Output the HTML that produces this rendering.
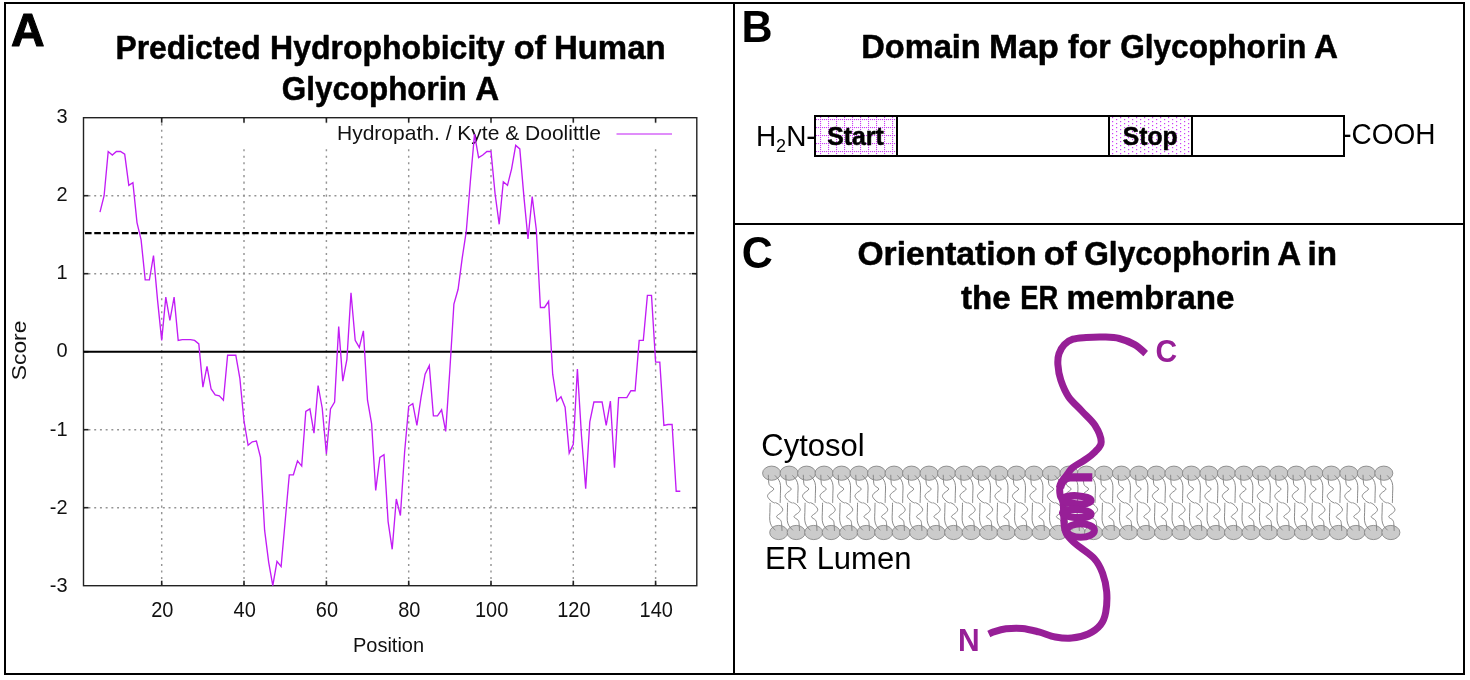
<!DOCTYPE html>
<html><head><meta charset="utf-8"><title>Glycophorin A</title>
<style>html,body{margin:0;padding:0;background:#fff;}svg{display:block;will-change:transform;font-family:"Liberation Sans",sans-serif;}</style>
</head><body>
<svg width="1470" height="680" viewBox="0 0 1470 680">
<defs>
<pattern id="pstart" x="820" y="119" width="8" height="8" patternUnits="userSpaceOnUse">
<rect x="0" y="0" width="1.1" height="1.1" fill="#cb3df5"/>
<rect x="2" y="0" width="1.1" height="1.1" fill="#cb3df5"/>
<rect x="4" y="0" width="1.1" height="1.1" fill="#cb3df5"/>
<rect x="6" y="0" width="1.1" height="1.1" fill="#cb3df5"/>
<rect x="0" y="2" width="1.1" height="1.1" fill="#cb3df5"/>
<rect x="0" y="4" width="1.1" height="1.1" fill="#cb3df5"/>
<rect x="0" y="6" width="1.1" height="1.1" fill="#cb3df5"/>
</pattern>
<pattern id="pstop" x="1112" y="117" width="8" height="4" patternUnits="userSpaceOnUse">
<rect x="0" y="0" width="1.2" height="1.2" fill="#cb3df5"/><rect x="4" y="2" width="1.2" height="1.2" fill="#cb3df5"/>
</pattern>
<g id="lip">
<ellipse cx="0" cy="0" rx="9" ry="7.1" fill="#cbcbcb" stroke="#888" stroke-width="0.9"/>
<path d="M-3.3,1.6C-3.2,2.6 -3.2,5.7 -3.0,7.5C-2.8,9.3 -2.9,10.8 -2.0,12.2C-1.1,13.6 2.4,14.6 2.2,15.9C2.1,17.2 -1.6,18.9 -2.6,20.1C-3.6,21.4 -4.3,22.1 -4.0,23.4C-3.6,24.7 -1.7,26.7 -0.5,27.8C0.7,28.9 2.8,29.6 3.4,30.0" fill="none" stroke="#7d7d7d" stroke-width="0.9"/>
<path d="M3.3,2.2C4.0,3.0 6.4,5.2 7.3,6.9C8.2,8.6 8.7,10.0 8.9,12.2C9.2,14.4 8.9,17.1 8.8,20.0C8.8,22.9 8.6,28.1 8.6,29.7" fill="none" stroke="#7d7d7d" stroke-width="0.9"/>
</g>
</defs>
<rect x="5" y="3" width="1459" height="671" fill="none" stroke="#000" stroke-width="2"/>
<line x1="734" y1="3" x2="734" y2="674" stroke="#000" stroke-width="2"/>
<line x1="734" y1="224" x2="1464" y2="224" stroke="#000" stroke-width="2"/>
<text transform="translate(11.00,46.20)" font-size="45.5" font-weight="bold" textLength="33.6" lengthAdjust="spacingAndGlyphs" fill="#000" stroke="#000" stroke-width="1.0" stroke-linejoin="round">A</text>
<text transform="translate(115.39,59.40) scale(0.9844,1.030)" font-size="32.4" font-weight="bold" stroke="#000" stroke-width="0.5" stroke-linejoin="round">Predicted</text>
<text transform="translate(270.08,59.40) scale(0.9878,1.030)" font-size="32.4" font-weight="bold" stroke="#000" stroke-width="0.5" stroke-linejoin="round">Hydrophobicity</text>
<text transform="translate(513.67,59.40) scale(1.0592,1.030)" font-size="32.4" font-weight="bold" stroke="#000" stroke-width="0.5" stroke-linejoin="round">of</text>
<text transform="translate(553.92,59.40) scale(1.0180,1.030)" font-size="32.4" font-weight="bold" stroke="#000" stroke-width="0.5" stroke-linejoin="round">Human</text>
<text transform="translate(281.85,99.60) scale(0.9683,1.030)" font-size="32.4" font-weight="bold" stroke="#000" stroke-width="0.5" stroke-linejoin="round">Glycophorin</text>
<text transform="translate(475.24,99.60) scale(1.0212,1.030)" font-size="32.4" font-weight="bold" stroke="#000" stroke-width="0.5" stroke-linejoin="round">A</text>
<line x1="161.7" y1="117.7" x2="161.7" y2="585.7" stroke="#949494" stroke-width="1.45" stroke-dasharray="2.1 4.38" stroke-dashoffset="0.9"/>
<line x1="244.0" y1="117.7" x2="244.0" y2="585.7" stroke="#949494" stroke-width="1.45" stroke-dasharray="2.1 4.38" stroke-dashoffset="0.9"/>
<line x1="326.4" y1="117.7" x2="326.4" y2="585.7" stroke="#949494" stroke-width="1.45" stroke-dasharray="2.1 4.38" stroke-dashoffset="0.9"/>
<line x1="408.7" y1="117.7" x2="408.7" y2="585.7" stroke="#949494" stroke-width="1.45" stroke-dasharray="2.1 4.38" stroke-dashoffset="0.9"/>
<line x1="491.0" y1="117.7" x2="491.0" y2="585.7" stroke="#949494" stroke-width="1.45" stroke-dasharray="2.1 4.38" stroke-dashoffset="0.9"/>
<line x1="573.3" y1="117.7" x2="573.3" y2="585.7" stroke="#949494" stroke-width="1.45" stroke-dasharray="2.1 4.38" stroke-dashoffset="0.9"/>
<line x1="655.6" y1="117.7" x2="655.6" y2="585.7" stroke="#949494" stroke-width="1.45" stroke-dasharray="2.1 4.38" stroke-dashoffset="0.9"/>
<line x1="83.5" y1="507.7" x2="696.8" y2="507.7" stroke="#949494" stroke-width="1.45" stroke-dasharray="1.95 3.77" stroke-dashoffset="0.72"/>
<line x1="83.5" y1="429.7" x2="696.8" y2="429.7" stroke="#949494" stroke-width="1.45" stroke-dasharray="1.95 3.77" stroke-dashoffset="0.72"/>
<line x1="83.5" y1="273.7" x2="696.8" y2="273.7" stroke="#949494" stroke-width="1.45" stroke-dasharray="1.95 3.77" stroke-dashoffset="0.72"/>
<line x1="83.5" y1="195.7" x2="696.8" y2="195.7" stroke="#949494" stroke-width="1.45" stroke-dasharray="1.95 3.77" stroke-dashoffset="0.72"/>
<line x1="161.7" y1="117.7" x2="161.7" y2="122.7" stroke="#222" stroke-width="1.6"/>
<line x1="161.7" y1="585.7" x2="161.7" y2="580.7" stroke="#222" stroke-width="1.6"/>
<line x1="244.0" y1="117.7" x2="244.0" y2="122.7" stroke="#222" stroke-width="1.6"/>
<line x1="244.0" y1="585.7" x2="244.0" y2="580.7" stroke="#222" stroke-width="1.6"/>
<line x1="326.4" y1="117.7" x2="326.4" y2="122.7" stroke="#222" stroke-width="1.6"/>
<line x1="326.4" y1="585.7" x2="326.4" y2="580.7" stroke="#222" stroke-width="1.6"/>
<line x1="408.7" y1="117.7" x2="408.7" y2="122.7" stroke="#222" stroke-width="1.6"/>
<line x1="408.7" y1="585.7" x2="408.7" y2="580.7" stroke="#222" stroke-width="1.6"/>
<line x1="491.0" y1="117.7" x2="491.0" y2="122.7" stroke="#222" stroke-width="1.6"/>
<line x1="491.0" y1="585.7" x2="491.0" y2="580.7" stroke="#222" stroke-width="1.6"/>
<line x1="573.3" y1="117.7" x2="573.3" y2="122.7" stroke="#222" stroke-width="1.6"/>
<line x1="573.3" y1="585.7" x2="573.3" y2="580.7" stroke="#222" stroke-width="1.6"/>
<line x1="655.6" y1="117.7" x2="655.6" y2="122.7" stroke="#222" stroke-width="1.6"/>
<line x1="655.6" y1="585.7" x2="655.6" y2="580.7" stroke="#222" stroke-width="1.6"/>
<line x1="83.5" y1="507.7" x2="88.5" y2="507.7" stroke="#222" stroke-width="1.6"/>
<line x1="696.8" y1="507.7" x2="691.8" y2="507.7" stroke="#222" stroke-width="1.6"/>
<line x1="83.5" y1="429.7" x2="88.5" y2="429.7" stroke="#222" stroke-width="1.6"/>
<line x1="696.8" y1="429.7" x2="691.8" y2="429.7" stroke="#222" stroke-width="1.6"/>
<line x1="83.5" y1="351.7" x2="88.5" y2="351.7" stroke="#222" stroke-width="1.6"/>
<line x1="696.8" y1="351.7" x2="691.8" y2="351.7" stroke="#222" stroke-width="1.6"/>
<line x1="83.5" y1="273.7" x2="88.5" y2="273.7" stroke="#222" stroke-width="1.6"/>
<line x1="696.8" y1="273.7" x2="691.8" y2="273.7" stroke="#222" stroke-width="1.6"/>
<line x1="83.5" y1="195.7" x2="88.5" y2="195.7" stroke="#222" stroke-width="1.6"/>
<line x1="696.8" y1="195.7" x2="691.8" y2="195.7" stroke="#222" stroke-width="1.6"/>
<rect x="83.5" y="117.7" width="613.3" height="468.0" fill="none" stroke="#222" stroke-width="1.4"/>
<rect x="200" y="123.2" width="495.8" height="22.8" fill="#fff"/>
<text transform="translate(337.00,139.90) scale(1,1.0500)" font-size="20" textLength="264.0" lengthAdjust="spacingAndGlyphs" fill="#111">Hydropath. / Kyte &amp; Doolittle</text>
<line x1="616.5" y1="134" x2="672" y2="134" stroke="#c21cf5" stroke-width="1.2"/>
<line x1="83.5" y1="351.8" x2="696.8" y2="351.8" stroke="#000" stroke-width="1.9"/>
<line x1="85" y1="233.1" x2="696.8" y2="233.1" stroke="#000" stroke-width="2.2" stroke-dasharray="6.6 2.67"/>
<path d="M100.0,212.2 L104.1,195.7 L108.2,151.5 L112.3,155.0 L116.4,151.5 L120.5,151.5 L124.7,154.1 L128.8,185.3 L132.9,182.7 L137.0,222.6 L141.1,239.9 L145.2,279.8 L149.4,279.8 L153.5,255.5 L157.6,300.6 L161.7,340.4 L165.8,297.1 L169.9,320.5 L174.1,297.1 L178.2,340.4 L182.3,339.6 L186.4,339.6 L190.5,339.6 L194.6,340.4 L198.8,343.9 L202.9,387.2 L207.0,366.4 L211.1,389.0 L215.2,395.0 L219.3,395.9 L223.4,400.2 L227.6,355.2 L231.7,355.2 L235.8,355.2 L239.9,378.6 L244.0,421.0 L248.1,445.3 L252.3,441.8 L256.4,441.0 L260.5,457.4 L264.6,530.2 L268.7,562.3 L272.8,585.7 L277.0,561.4 L281.1,566.6 L285.2,520.7 L289.3,474.8 L293.4,474.8 L297.5,460.9 L301.7,466.1 L305.8,411.5 L309.9,408.9 L314.0,433.2 L318.1,385.5 L322.2,408.0 L326.4,454.0 L330.5,408.9 L334.6,402.0 L338.7,326.6 L342.8,381.2 L346.9,359.5 L351.0,292.8 L355.2,340.4 L359.3,347.4 L363.4,330.9 L367.5,400.2 L371.6,423.6 L375.7,490.4 L379.9,457.4 L384.0,454.8 L388.1,521.6 L392.2,549.3 L396.3,499.0 L400.4,515.5 L404.6,452.2 L408.7,406.3 L412.8,403.7 L416.9,425.4 L421.0,397.6 L425.1,374.2 L429.3,365.6 L433.4,415.8 L437.5,415.8 L441.6,409.8 L445.7,431.4 L449.8,370.8 L453.9,304.0 L458.1,289.3 L462.2,258.1 L466.3,231.2 L470.4,181.0 L474.5,134.2 L478.6,157.6 L482.8,155.0 L486.9,151.5 L491.0,151.5 L495.1,194.0 L499.2,224.3 L503.3,181.8 L507.5,185.3 L511.6,168.8 L515.7,145.4 L519.8,148.9 L523.9,196.6 L528.0,239.0 L532.2,196.6 L536.3,229.5 L540.4,307.5 L544.5,307.5 L548.6,301.4 L552.7,374.2 L556.9,401.1 L561.0,396.8 L565.1,407.2 L569.2,453.1 L573.3,444.4 L577.4,369.0 L581.5,435.8 L585.7,488.6 L589.8,421.9 L593.9,402.0 L598.0,402.0 L602.1,402.0 L606.2,425.4 L610.4,401.1 L614.5,467.8 L618.6,397.6 L622.7,397.6 L626.8,397.6 L630.9,390.7 L635.1,390.7 L639.2,340.4 L643.3,340.4 L647.4,295.4 L651.5,295.4 L655.6,362.1 L659.8,362.1 L663.9,425.4 L668.0,424.5 L672.1,424.5 L676.2,491.2 L680.3,491.2" fill="none" stroke="#c21cf5" stroke-width="1.35" stroke-linejoin="miter"/>
<text transform="translate(67.60,123.10) scale(1,1.0500)" font-size="20" text-anchor="end" fill="#111">3</text>
<text transform="translate(67.60,201.10) scale(1,1.0500)" font-size="20" text-anchor="end" fill="#111">2</text>
<text transform="translate(67.60,279.10) scale(1,1.0500)" font-size="20" text-anchor="end" fill="#111">1</text>
<text transform="translate(67.60,357.10) scale(1,1.0500)" font-size="20" text-anchor="end" fill="#111">0</text>
<text transform="translate(67.60,436.00) scale(1,1.0500)" font-size="20" text-anchor="end" fill="#111">-1</text>
<text transform="translate(67.60,514.00) scale(1,1.0500)" font-size="20" text-anchor="end" fill="#111">-2</text>
<text transform="translate(67.60,592.00) scale(1,1.0500)" font-size="20" text-anchor="end" fill="#111">-3</text>
<text transform="translate(162.31,616.50) scale(1,1.1000)" font-size="20" text-anchor="middle" fill="#111">20</text>
<text transform="translate(244.63,616.50) scale(1,1.1000)" font-size="20" text-anchor="middle" fill="#111">40</text>
<text transform="translate(326.95,616.50) scale(1,1.1000)" font-size="20" text-anchor="middle" fill="#111">60</text>
<text transform="translate(409.27,616.50) scale(1,1.1000)" font-size="20" text-anchor="middle" fill="#111">80</text>
<text transform="translate(491.59,616.50) scale(1,1.1000)" font-size="20" text-anchor="middle" fill="#111">100</text>
<text transform="translate(573.92,616.50) scale(1,1.1000)" font-size="20" text-anchor="middle" fill="#111">120</text>
<text transform="translate(656.24,616.50) scale(1,1.1000)" font-size="20" text-anchor="middle" fill="#111">140</text>
<text transform="translate(388.50,652.30) scale(1,1.0400)" font-size="20" text-anchor="middle" fill="#111">Position</text>
<text transform="translate(26.2,380.2) rotate(-90)" font-size="20" textLength="59.5" lengthAdjust="spacingAndGlyphs" fill="#111">Score</text>
<text transform="translate(741.60,42.30) scale(1,1.0412)" font-size="43" font-weight="bold" fill="#000">B</text>
<text transform="translate(861.24,57.90) scale(1.0061,1.030)" font-size="32.4" font-weight="bold" stroke="#000" stroke-width="0.5" stroke-linejoin="round">Domain</text>
<text transform="translate(989.01,57.90) scale(1.0775,1.030)" font-size="32.4" font-weight="bold" stroke="#000" stroke-width="0.5" stroke-linejoin="round">Map</text>
<text transform="translate(1068.08,57.90) scale(0.9843,1.030)" font-size="32.4" font-weight="bold" stroke="#000" stroke-width="0.5" stroke-linejoin="round">for</text>
<text transform="translate(1120.13,57.90) scale(0.9763,1.030)" font-size="32.4" font-weight="bold" stroke="#000" stroke-width="0.5" stroke-linejoin="round">Glycophorin</text>
<text transform="translate(1314.04,57.90) scale(1.0258,1.030)" font-size="32.4" font-weight="bold" stroke="#000" stroke-width="0.5" stroke-linejoin="round">A</text>
<rect x="815" y="116" width="82" height="40" fill="url(#pstart)"/>
<rect x="1109" y="116" width="83" height="40" fill="url(#pstop)"/>
<rect x="815" y="116" width="529" height="40" fill="none" stroke="#000" stroke-width="2"/>
<line x1="897" y1="116" x2="897" y2="156" stroke="#000" stroke-width="2"/>
<line x1="1109" y1="116" x2="1109" y2="156" stroke="#000" stroke-width="2"/>
<line x1="1192" y1="116" x2="1192" y2="156" stroke="#000" stroke-width="2"/>
<text transform="translate(827.20,144.70) scale(1,1.0412)" font-size="24" font-weight="bold" textLength="56.6" lengthAdjust="spacingAndGlyphs" fill="#000" stroke="#000" stroke-width="0.5" stroke-linejoin="round">Start</text>
<text transform="translate(1122.80,144.70) scale(1,1.0412)" font-size="24" font-weight="bold" textLength="54.8" lengthAdjust="spacingAndGlyphs" fill="#000" stroke="#000" stroke-width="0.5" stroke-linejoin="round">Stop</text>
<text transform="translate(755.90,146.00) scale(1,1.0412)" font-size="28" fill="#000">H<tspan font-size="18" dy="5.4">2</tspan><tspan dy="-5.4">N-</tspan></text>
<text transform="translate(1342.20,143.80) scale(1,1.0412)" font-size="28" fill="#000">-COOH</text>
<text transform="translate(741.70,268.30) scale(1,1.0412)" font-size="43" font-weight="bold" fill="#000">C</text>
<text transform="translate(857.46,265.20) scale(1.0363,1.030)" font-size="32.4" font-weight="bold" stroke="#000" stroke-width="0.5" stroke-linejoin="round">Orientation</text>
<text transform="translate(1043.65,265.20) scale(1.0826,1.030)" font-size="32.4" font-weight="bold" stroke="#000" stroke-width="0.5" stroke-linejoin="round">of</text>
<text transform="translate(1084.23,265.20) scale(0.9774,1.030)" font-size="32.4" font-weight="bold" stroke="#000" stroke-width="0.5" stroke-linejoin="round">Glycophorin</text>
<text transform="translate(1277.14,265.20) scale(1.0212,1.030)" font-size="32.4" font-weight="bold" stroke="#000" stroke-width="0.5" stroke-linejoin="round">A</text>
<text transform="translate(1307.61,265.20) scale(1.0250,1.030)" font-size="32.4" font-weight="bold" stroke="#000" stroke-width="0.5" stroke-linejoin="round">in</text>
<text transform="translate(961.07,308.80) scale(1.0226,1.030)" font-size="32.4" font-weight="bold" stroke="#000" stroke-width="0.5" stroke-linejoin="round">the</text>
<text transform="translate(1020.16,308.80) scale(0.8437,1.030)" font-size="32.4" font-weight="bold" stroke="#000" stroke-width="0.5" stroke-linejoin="round">ER</text>
<text transform="translate(1066.51,308.80) scale(1.0250,1.030)" font-size="32.4" font-weight="bold" stroke="#000" stroke-width="0.5" stroke-linejoin="round">membrane</text>
<text transform="translate(761.30,456.00) scale(1,1.0412)" font-size="31" fill="#000">Cytosol</text>
<text transform="translate(765.00,568.70) scale(1,1.0412)" font-size="31" fill="#000">ER Lumen</text>
<use href="#lip" x="771.60" y="473.2"/>
<use href="#lip" x="789.09" y="473.2"/>
<use href="#lip" x="806.58" y="473.2"/>
<use href="#lip" x="824.07" y="473.2"/>
<use href="#lip" x="841.57" y="473.2"/>
<use href="#lip" x="859.06" y="473.2"/>
<use href="#lip" x="876.55" y="473.2"/>
<use href="#lip" x="894.04" y="473.2"/>
<use href="#lip" x="911.53" y="473.2"/>
<use href="#lip" x="929.02" y="473.2"/>
<use href="#lip" x="946.51" y="473.2"/>
<use href="#lip" x="964.01" y="473.2"/>
<use href="#lip" x="981.50" y="473.2"/>
<use href="#lip" x="998.99" y="473.2"/>
<use href="#lip" x="1016.48" y="473.2"/>
<use href="#lip" x="1033.97" y="473.2"/>
<use href="#lip" x="1051.46" y="473.2"/>
<use href="#lip" x="1068.95" y="473.2"/>
<use href="#lip" x="1086.45" y="473.2"/>
<use href="#lip" x="1103.94" y="473.2"/>
<use href="#lip" x="1121.43" y="473.2"/>
<use href="#lip" x="1138.92" y="473.2"/>
<use href="#lip" x="1156.41" y="473.2"/>
<use href="#lip" x="1173.90" y="473.2"/>
<use href="#lip" x="1191.39" y="473.2"/>
<use href="#lip" x="1208.89" y="473.2"/>
<use href="#lip" x="1226.38" y="473.2"/>
<use href="#lip" x="1243.87" y="473.2"/>
<use href="#lip" x="1261.36" y="473.2"/>
<use href="#lip" x="1278.85" y="473.2"/>
<use href="#lip" x="1296.34" y="473.2"/>
<use href="#lip" x="1313.83" y="473.2"/>
<use href="#lip" x="1331.33" y="473.2"/>
<use href="#lip" x="1348.82" y="473.2"/>
<use href="#lip" x="1366.31" y="473.2"/>
<use href="#lip" x="1383.80" y="473.2"/>
<use href="#lip" transform="translate(778.70,532.5) rotate(180)"/>
<use href="#lip" transform="translate(796.19,532.5) rotate(180)"/>
<use href="#lip" transform="translate(813.68,532.5) rotate(180)"/>
<use href="#lip" transform="translate(831.17,532.5) rotate(180)"/>
<use href="#lip" transform="translate(848.67,532.5) rotate(180)"/>
<use href="#lip" transform="translate(866.16,532.5) rotate(180)"/>
<use href="#lip" transform="translate(883.65,532.5) rotate(180)"/>
<use href="#lip" transform="translate(901.14,532.5) rotate(180)"/>
<use href="#lip" transform="translate(918.63,532.5) rotate(180)"/>
<use href="#lip" transform="translate(936.12,532.5) rotate(180)"/>
<use href="#lip" transform="translate(953.61,532.5) rotate(180)"/>
<use href="#lip" transform="translate(971.11,532.5) rotate(180)"/>
<use href="#lip" transform="translate(988.60,532.5) rotate(180)"/>
<use href="#lip" transform="translate(1006.09,532.5) rotate(180)"/>
<use href="#lip" transform="translate(1023.58,532.5) rotate(180)"/>
<use href="#lip" transform="translate(1041.07,532.5) rotate(180)"/>
<use href="#lip" transform="translate(1058.56,532.5) rotate(180)"/>
<use href="#lip" transform="translate(1076.05,532.5) rotate(180)"/>
<use href="#lip" transform="translate(1093.55,532.5) rotate(180)"/>
<use href="#lip" transform="translate(1111.04,532.5) rotate(180)"/>
<use href="#lip" transform="translate(1128.53,532.5) rotate(180)"/>
<use href="#lip" transform="translate(1146.02,532.5) rotate(180)"/>
<use href="#lip" transform="translate(1163.51,532.5) rotate(180)"/>
<use href="#lip" transform="translate(1181.00,532.5) rotate(180)"/>
<use href="#lip" transform="translate(1198.49,532.5) rotate(180)"/>
<use href="#lip" transform="translate(1215.99,532.5) rotate(180)"/>
<use href="#lip" transform="translate(1233.48,532.5) rotate(180)"/>
<use href="#lip" transform="translate(1250.97,532.5) rotate(180)"/>
<use href="#lip" transform="translate(1268.46,532.5) rotate(180)"/>
<use href="#lip" transform="translate(1285.95,532.5) rotate(180)"/>
<use href="#lip" transform="translate(1303.44,532.5) rotate(180)"/>
<use href="#lip" transform="translate(1320.93,532.5) rotate(180)"/>
<use href="#lip" transform="translate(1338.43,532.5) rotate(180)"/>
<use href="#lip" transform="translate(1355.92,532.5) rotate(180)"/>
<use href="#lip" transform="translate(1373.41,532.5) rotate(180)"/>
<use href="#lip" transform="translate(1390.90,532.5) rotate(180)"/>
<path d="M1145.7,353.6C1143.9,352.1 1139.1,347.1 1134.7,344.6C1130.3,342.1 1124.5,339.8 1119.3,338.5C1114.1,337.2 1109.3,337.2 1103.8,337.0C1098.3,336.8 1091.3,337.1 1086.2,337.5C1081.1,337.9 1076.6,338.0 1072.9,339.2C1069.2,340.4 1066.6,342.2 1064.3,344.6C1062.0,347.0 1060.1,350.4 1059.0,353.7C1057.9,357.0 1057.6,360.3 1057.9,364.7C1058.2,369.1 1059.0,374.9 1060.8,380.2C1062.6,385.5 1065.0,391.6 1068.5,396.7C1072.0,401.8 1077.4,406.2 1081.8,411.0C1086.2,415.8 1091.8,420.2 1095.0,425.4C1098.2,430.5 1101.2,437.5 1101.2,441.9C1101.2,446.3 1097.8,448.8 1095.0,451.8C1092.2,454.8 1088.5,457.4 1084.7,460.0C1081.0,462.6 1075.3,465.4 1072.5,467.7C1069.7,470.0 1069.4,471.4 1067.8,473.6C1066.2,475.8 1064.0,478.5 1062.7,480.9C1061.4,483.3 1060.3,485.3 1059.9,487.8C1059.5,490.3 1059.8,493.4 1060.3,495.7C1060.8,498.0 1062.3,498.8 1062.9,501.7C1063.5,504.6 1063.5,508.8 1063.7,512.9C1063.9,517.0 1063.8,522.7 1064.3,526.2C1064.8,529.7 1064.9,531.2 1066.4,533.8C1067.9,536.4 1071.2,539.8 1073.5,542.0C1075.8,544.2 1076.6,544.5 1080.1,547.3C1083.6,550.1 1090.7,554.5 1094.4,558.8C1098.2,563.1 1100.5,567.7 1102.6,573.2C1104.6,578.7 1106.2,585.3 1106.7,591.8C1107.2,598.3 1106.7,606.8 1105.7,612.3C1104.7,617.8 1103.5,621.1 1100.6,624.7C1097.7,628.3 1093.0,631.8 1088.2,634.0C1083.4,636.2 1077.2,637.6 1071.7,638.1C1066.2,638.6 1060.8,638.0 1055.3,637.0C1049.8,636.0 1044.3,633.3 1038.8,631.9C1033.3,630.5 1027.8,628.9 1022.3,628.4C1016.8,627.9 1010.7,628.2 1005.9,628.8C1001.1,629.4 996.4,631.0 993.5,631.9C990.6,632.8 989.6,633.6 988.8,634.0" fill="none" stroke="#971f97" stroke-width="7.0" stroke-linejoin="round"/>
<path d="M1092.3,477.4 L1070,477.4 Q1062,478 1060,488" fill="none" stroke="#971f97" stroke-width="8.2"/>
<ellipse cx="1076.8" cy="499.9" rx="14.2" ry="4.1" transform="rotate(3 1076.8 499.9)" fill="none" stroke="#971f97" stroke-width="7.3" stroke-linejoin="round"/>
<ellipse cx="1076.8" cy="513.5" rx="14.2" ry="4.1" transform="rotate(3 1076.8 513.5)" fill="none" stroke="#971f97" stroke-width="7.3" stroke-linejoin="round"/>
<ellipse cx="1080.7" cy="530.5" rx="13.7" ry="6.8" fill="none" stroke="#971f97" stroke-width="7.0" stroke-linejoin="round"/>
<text transform="translate(1155.40,362.20) scale(1,1.0412)" font-size="30" font-weight="bold" fill="#971f97">C</text>
<text transform="translate(957.90,651.40) scale(1,1.0412)" font-size="30" font-weight="bold" fill="#971f97">N</text>
</svg></body></html>
